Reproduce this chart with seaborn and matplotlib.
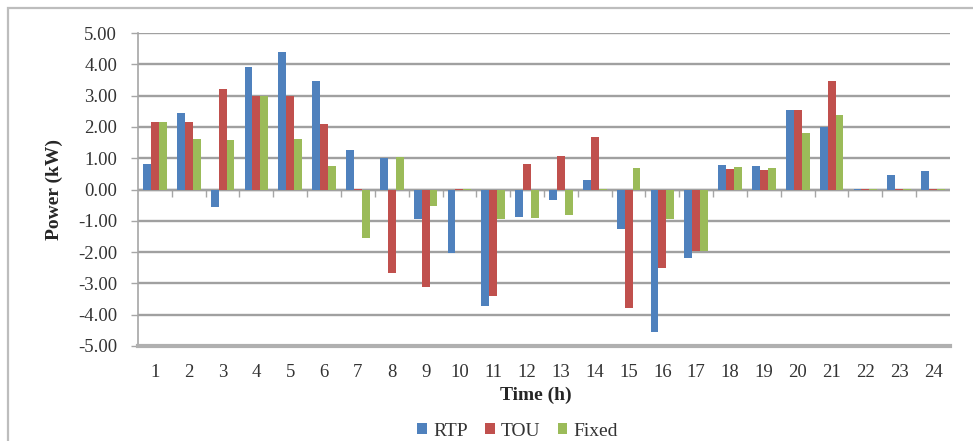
import matplotlib
matplotlib.use("Agg")
import matplotlib.pyplot as plt
from matplotlib.patches import Rectangle
import seaborn as sns
import pandas as pd
import numpy as np

hours = [str(h) for h in range(1, 25)]
rtp = [0.80, 2.43, -0.55, 3.90, 4.38, 3.48, 1.27, 1.01, -0.95, -2.02, -3.72, -0.89,
       -0.35, 0.29, -1.27, -4.55, -2.18, 0.77, 0.74, 2.55, 2.00, 0.03, 0.45, 0.60]
tou = [2.15, 2.17, 3.20, 3.00, 3.00, 2.10, 0.02, -2.67, -3.10, 0.02, -3.39, 0.80,
       1.07, 1.68, -3.80, -2.50, -1.95, 0.66, 0.63, 2.55, 3.47, 0.03, 0.03, 0.03]
fixed = [2.15, 1.62, 1.57, 3.00, 1.62, 0.75, -1.55, 1.03, -0.52, 0.02, -0.95, -0.92,
         -0.82, 0.02, 0.70, -0.95, -1.95, 0.71, 0.68, 1.82, 2.37, 0.03, 0.03, 0.02]
series = ["RTP", "TOU", "Fixed"]
colors = ["#4F81BD", "#C0504D", "#9BBB59"]
yticks = [-5, -4, -3, -2, -1, 0, 1, 2, 3, 4, 5]

df = pd.DataFrame({
    "Time": hours * 3,
    "Power": rtp + tou + fixed,
    "Scheme": [s for s in series for _ in hours],
})

sns.set_theme(style="white")
plt.rcParams["font.family"] = ["Liberation Serif", "DejaVu Serif"]

fig = plt.figure(figsize=(9.73, 4.41), dpi=100)
ax = fig.add_axes([138 / 973, 1 - 346 / 441, (950 - 138) / 973, (346 - 33) / 441])

sns.barplot(data=df, x="Time", y="Power", hue="Scheme", order=hours,
            hue_order=series, palette=colors, width=0.7, ax=ax,
            saturation=1, linewidth=0, legend=True)

ax.set_ylim(-5, 5)
ax.set_xlim(-0.5, 23.5)
ax.set_yticks(yticks)
ax.set_yticklabels([f"{v:.2f}" for v in yticks], fontsize=13.5, color="#333333")
ax.yaxis.grid(True, color="#A0A0A0", linewidth=1.7)
ax.set_axisbelow(True)
ax.tick_params(axis="y", which="major", length=5, width=1, color="#A6A6A6",
               direction="out", left=True, pad=10)
ax.tick_params(axis="x", length=0, labelsize=13.5, labelcolor="#333333", pad=13)

for s in ["top", "right"]:
    ax.spines[s].set_visible(False)
ax.spines["left"].set_color("#A6A6A6")
ax.spines["left"].set_linewidth(1.2)
ax.spines["bottom"].set_color("#B0B0B0")
ax.spines["bottom"].set_linewidth(3)

ax.axhline(0, color="#A0A0A0", linewidth=1.7, zorder=0.5)
sec = ax.secondary_xaxis(0.5)
sec.set_xticks(np.arange(0.5, 23.5, 1.0))
sec.tick_params(axis="x", direction="out", length=5, width=1, color="#A6A6A6",
                labelbottom=False, labeltop=False, top=False, bottom=True)
sec.spines["bottom"].set_visible(False)
sec.spines["top"].set_visible(False)

ax.set_xlabel("Time (h)", fontsize=14, fontweight="bold")
ax.set_ylabel("Power (kW)", fontsize=14, fontweight="bold")
ax.xaxis.set_label_coords(0.49, -0.13)
ax.yaxis.set_label_coords(-0.092, 0.5)

handles, labels = ax.get_legend_handles_labels()
ax.get_legend().remove()
leg = fig.legend(handles, labels, loc="center", bbox_to_anchor=(0.532, 0.022), ncol=3,
                 frameon=False, prop={"family": ["Liberation Serif", "DejaVu Serif"], "size": 14},
                 handlelength=0.5, handleheight=0.5, handletextpad=0.3, columnspacing=0.9)
for t in leg.get_texts():
    t.set_color("#333333")

fig.patches.append(Rectangle((8 / 973, -0.1), 1.2, (441 - 8) / 441 + 0.1,
                             transform=fig.transFigure, fill=False,
                             edgecolor="#BDBDBD", linewidth=1.6))

fig.savefig("out.png", dpi=100)
